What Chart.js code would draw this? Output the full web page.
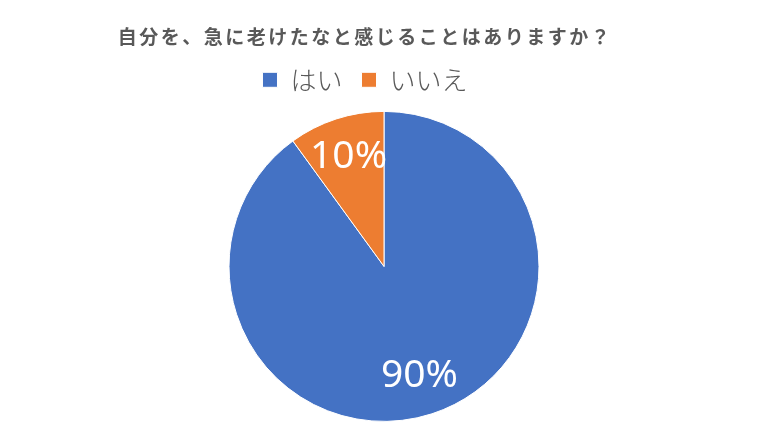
<!DOCTYPE html>
<html lang="ja">
<head>
    <meta charset="UTF-8">
    <title>自分を、急に老けたなと感じることはありますか？</title>
    <style>
        html, body {
            margin: 0;
            padding: 0;
            background: #ffffff;
        }
        #wrap {
            width: 768px;
            height: 432px;
        }
    </style>
</head>
<body>

<div id="wrap">
    <canvas id="pieChart" width="768" height="432"></canvas>
</div>

<script src="https://cdn.jsdelivr.net/npm/chart.js@4.4.1/dist/chart.umd.min.js"></script>
<script>
  const titleText = '自分を、急に老けたなと感じることはありますか？';
  const categories = ['はい', 'いいえ'];
  const shares = [90, 10]; // percent
  const sliceColors = ['#4472C4', '#ED7D31'];

  const jpFont = "'Noto Sans CJK JP', 'Noto Sans', sans-serif";
  const shiftX = -19; // title and legend sit a bit left of the pie

  // move the title and legend boxes sideways after layout
  const shiftBoxes = {
    id: 'shiftBoxes',
    afterLayout(chart) {
      [chart.titleBlock, chart.legend].forEach(box => {
        if (!box) return;
        box.left += shiftX;
        box.right += shiftX;
      });
    }
  };

  // wider letter spacing for the title only
  const titleSpacing = {
    id: 'titleSpacing',
    afterInit(chart) {
      const block = chart.titleBlock;
      if (!block || block._spaced) return;
      const draw = block.draw.bind(block);
      block.draw = function (area) {
        chart.ctx.letterSpacing = '2.5px';
        draw(area);
        chart.ctx.letterSpacing = '0px';
      };
      block._spaced = true;
    }
  };

  // percentage labels inside the slices
  const sliceLabels = {
    id: 'sliceLabels',
    afterDatasetsDraw(chart) {
      const ctx = chart.ctx;
      const meta = chart.getDatasetMeta(0);
      ctx.save();
      ctx.fillStyle = '#ffffff';
      ctx.font = "39px 'Noto Sans', 'Open Sans', sans-serif";
      ctx.textAlign = 'center';
      ctx.textBaseline = 'middle';
      meta.data.forEach((arc, i) => {
        const mid = (arc.startAngle + arc.endAngle) / 2;
        const r = arc.outerRadius * 0.74;
        ctx.fillText(shares[i] + '%', arc.x + Math.cos(mid) * r, arc.y + Math.sin(mid) * r);
      });
      ctx.restore();
    }
  };

  const ctx = document.getElementById('pieChart').getContext('2d');

  new Chart(ctx, {
    type: 'pie',
    data: {
      labels: categories,
      datasets: [{
        data: shares,
        backgroundColor: sliceColors,
        borderColor: '#ffffff',
        borderWidth: 1,
        radius: 155
      }]
    },
    options: {
      responsive: false,
      animation: false,
      layout: {
        padding: { bottom: 2 }
      },
      plugins: {
        title: {
          display: true,
          text: titleText,
          color: '#595959',
          font: { family: jpFont, size: 19, weight: 'bold' },
          padding: { top: 25, bottom: 0 }
        },
        legend: {
          position: 'top',
          labels: {
            color: '#595959',
            boxWidth: 15,
            boxHeight: 15,
            padding: 19,
            font: { family: jpFont, size: 26, weight: 300 }
          }
        },
        tooltip: { enabled: false }
      }
    },
    plugins: [shiftBoxes, titleSpacing, sliceLabels]
  });
</script>

</body>
</html>
